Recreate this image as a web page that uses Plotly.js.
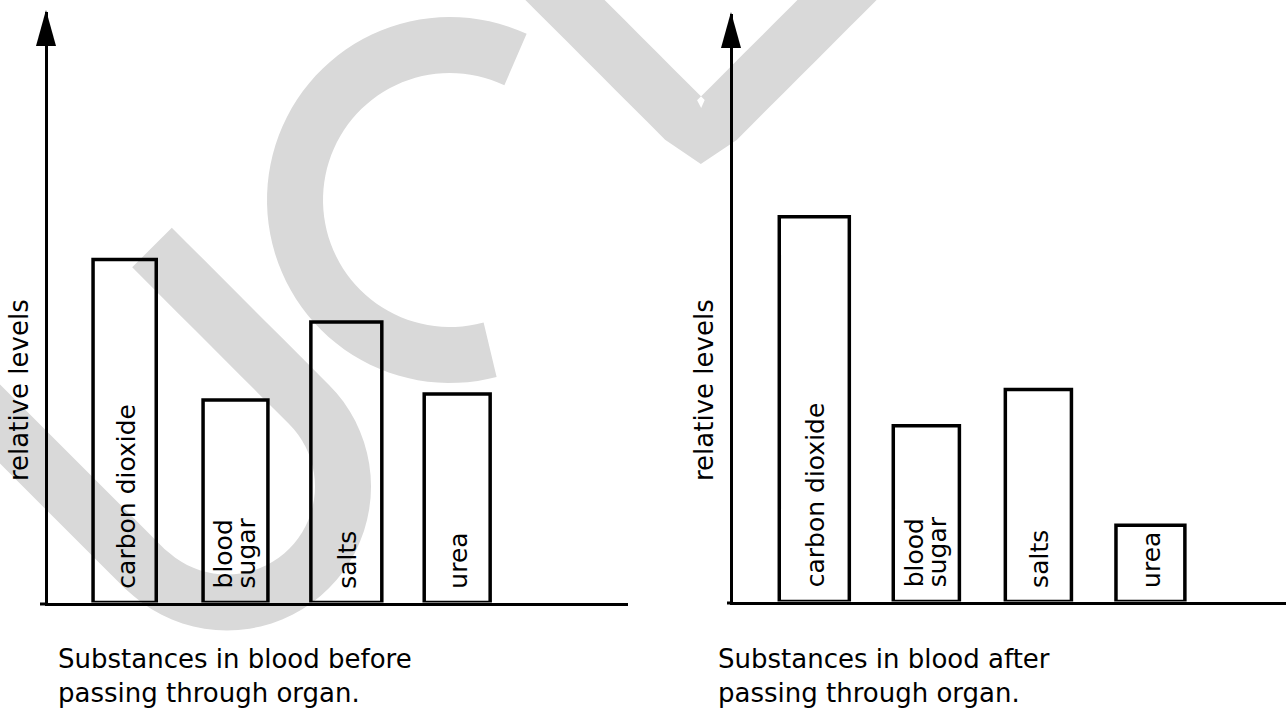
<!DOCTYPE html>
<html>
<head>
<meta charset="utf-8">
<script src="https://cdn.plot.ly/plotly-3.0.1.min.js"></script>
<style>html,body{margin:0;padding:0;background:#fff;}#chart{width:1287px;height:710px;}</style>
</head>
<body>
<div id="chart"></div>
<script>
// ---------- data ----------
const categories = ['carbon dioxide', 'blood sugar', 'salts', 'urea'];
const labelLines = [['carbon dioxide'], ['blood', 'sugar'], ['salts'], ['urea']];
const levelsBefore = [5.81, 3.43, 4.75, 3.53];
const levelsAfter = [6.55, 2.99, 3.61, 1.30];
const yAxisTitle = 'relative levels';
const captionBefore = 'Substances in blood before<br>passing through organ.';
const captionAfter = 'Substances in blood after<br>passing through organ.';

// ---------- styling / layout helpers ----------
const W = 1287, H = 710;
const X = v => v / W;
const Y = v => 1 - v / H;
const FONT = 'DejaVu Sans, Liberation Sans, Arial, sans-serif';
const barWidthsBefore = [0.57, 0.585, 0.64, 0.595];
const barWidthsAfter = [0.625, 0.59, 0.59, 0.615];

function bar(vals, widths, xa, ya) {
  return {
    type: 'bar', x: categories, y: vals, xaxis: xa, yaxis: ya,
    width: widths,
    marker: {color: 'rgba(0,0,0,0)', line: {color: '#000', width: 3.5}},
    hoverinfo: 'skip', showlegend: false
  };
}

// watermark geometry (decoration only)
function arcPts(cx, cy, r, a0, a1, n) {
  const p = [];
  for (let i = 0; i <= n; i++) {
    const a = (a0 + (a1 - a0) * i / n) * Math.PI / 180;
    p.push([cx + r * Math.cos(a), cy + r * Math.sin(a)]);
  }
  return p;
}
function seg(a, b, n) {
  const p = [];
  for (let i = 0; i <= n; i++) p.push([a[0] + (b[0] - a[0]) * i / n, a[1] + (b[1] - a[1]) * i / n]);
  return p;
}
function strokePoly(pts, w) {
  const L = [], R = [];
  for (let i = 0; i < pts.length; i++) {
    const a = pts[Math.max(0, i - 1)], b = pts[Math.min(pts.length - 1, i + 1)];
    let tx = b[0] - a[0], ty = b[1] - a[1];
    const len = Math.hypot(tx, ty) || 1; tx /= len; ty /= len;
    const nx = -ty, ny = tx;
    L.push([pts[i][0] + nx * w / 2, pts[i][1] + ny * w / 2]);
    R.push([pts[i][0] - nx * w / 2, pts[i][1] - ny * w / 2]);
  }
  const all = L.concat(R.reverse());
  return 'M' + all.map(p => X(p[0]).toFixed(5) + ',' + Y(p[1]).toFixed(5)).join('L') + 'Z';
}
const wmW = 56, wmColor = '#d9d9d9';
const uPts = seg([-90, 334], [145, 569], 10)
  .concat(arcPts(227, 486.5, 116, 135, -45, 40).slice(1))
  .concat(seg([309, 404.5], [152, 247.5], 10).slice(1));
const cPts = arcPts(450, 200, 155, 75, 295, 70);
const lPts = seg([540, -25], [701, 136], 10).concat(seg([701, 136], [860, -23], 10).slice(1));

const wmShapes = [uPts, cPts, lPts].map(p => ({
  type: 'path', xref: 'paper', yref: 'paper', layer: 'below',
  path: strokePoly(p, wmW), fillcolor: wmColor, line: {width: 0}
}));

function arrowHead(x, tip, base) {
  return {
    type: 'path', xref: 'paper', yref: 'paper', layer: 'above',
    path: 'M' + X(x) + ',' + Y(tip) + 'L' + X(x + 10) + ',' + Y(base) + 'L' + X(x - 10) + ',' + Y(base) + 'Z',
    fillcolor: '#000', line: {width: 0}
  };
}
function axisStub(x0, x1, y) {
  return {type: 'line', xref: 'paper', yref: 'paper', layer: 'above',
    x0: X(x0), x1: X(x1), y0: Y(y), y1: Y(y), line: {color: '#000', width: 3}};
}

function barLabels(xa, ya) {
  const out = [];
  labelLines.forEach((lines, i) => {
    const shifts = lines.length === 1 ? [1] : [-12, 11];
    lines.forEach((t, j) => {
      out.push({
        xref: xa, yref: ya, x: categories[i], y: 0, xanchor: 'center', yanchor: 'bottom',
        text: t, textangle: -90, showarrow: false, xshift: shifts[j], yshift: 12,
        font: {family: FONT, size: 25, color: '#000'}
      });
    });
  });
  return out;
}

const axisCommon = {
  showgrid: false, zeroline: false, showticklabels: false, ticks: '',
  showline: true, linecolor: '#000', linewidth: 3, fixedrange: true
};

const layout = {
  width: W, height: H,
  margin: {l: 0, r: 0, t: 0, b: 0},
  paper_bgcolor: '#fff', plot_bgcolor: 'rgba(0,0,0,0)',
  xaxis: Object.assign({}, axisCommon, {domain: [X(47.5), X(628)], type: 'category', range: [-0.696, 4.541], anchor: 'y'}),
  yaxis: Object.assign({}, axisCommon, {domain: [Y(602.5), Y(12)], range: [0, 10], anchor: 'x'}),
  xaxis2: Object.assign({}, axisCommon, {domain: [X(732.5), X(1286)], type: 'category', range: [-0.730, 4.21], anchor: 'y2'}),
  yaxis2: Object.assign({}, axisCommon, {domain: [Y(601.5), Y(14)], range: [0, 10], anchor: 'x2'}),
  shapes: wmShapes.concat([arrowHead(46, 10, 46), arrowHead(731, 12, 48), axisStub(40, 48, 604), axisStub(727, 733, 603)]),
  annotations: [].concat(
    barLabels('x', 'y'),
    barLabels('x2', 'y2'),
    [
      {xref: 'paper', yref: 'paper', x: X(19), y: Y(390), xanchor: 'center', yanchor: 'middle',
       text: yAxisTitle, textangle: -90, showarrow: false, font: {family: FONT, size: 26, color: '#000'}},
      {xref: 'paper', yref: 'paper', x: X(704), y: Y(390), xanchor: 'center', yanchor: 'middle',
       text: yAxisTitle, textangle: -90, showarrow: false, font: {family: FONT, size: 26, color: '#000'}},
      {xref: 'paper', yref: 'paper', x: X(56), y: Y(642), xanchor: 'left', yanchor: 'top', align: 'left',
       text: captionBefore, showarrow: false, font: {family: FONT, size: 26, color: '#000'}},
      {xref: 'paper', yref: 'paper', x: X(716), y: Y(642), xanchor: 'left', yanchor: 'top', align: 'left',
       text: captionAfter, showarrow: false, font: {family: FONT, size: 26, color: '#000'}}
    ]
  )
};

Plotly.newPlot('chart', [
  bar(levelsBefore, barWidthsBefore, 'x', 'y'),
  bar(levelsAfter, barWidthsAfter, 'x2', 'y2')
], layout, {staticPlot: true, displayModeBar: false});
</script>
</body>
</html>
